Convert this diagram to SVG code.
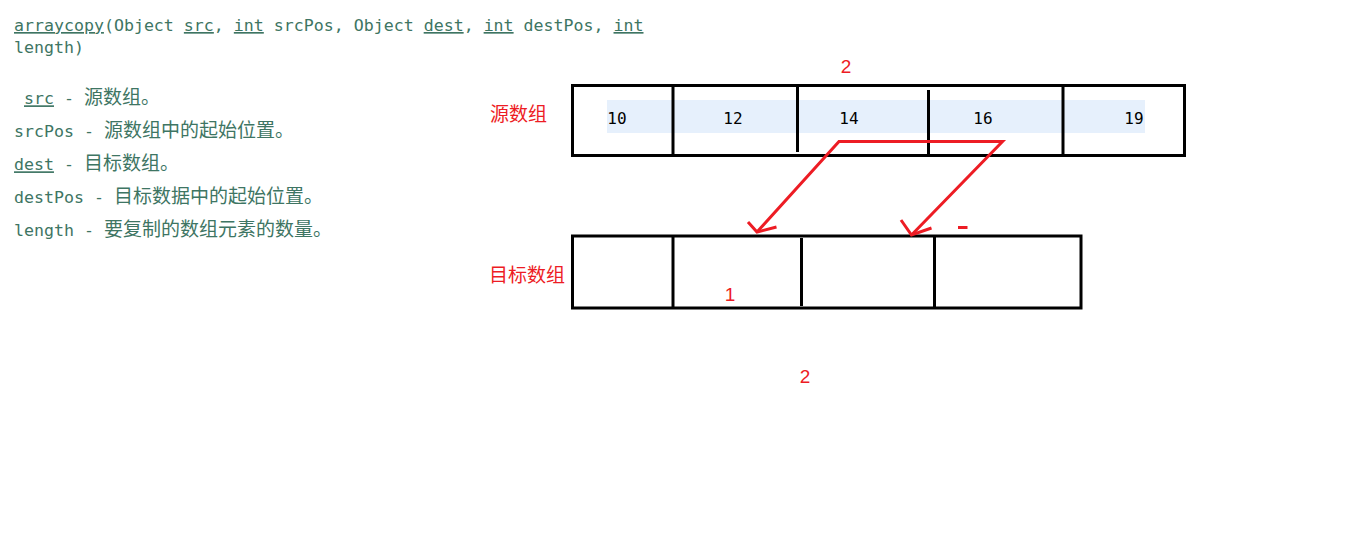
<svg xmlns="http://www.w3.org/2000/svg" width="1359" height="541" viewBox="0 0 1359 541">
<style>
.doc{font-family:"DejaVu Sans Mono","Liberation Mono","Noto Sans CJK SC",monospace;font-size:16.6px;fill:#3e7563}
.cj{font-family:"Noto Sans CJK SC",sans-serif;font-size:19px}
.u{text-decoration:underline}
.num{font-family:"DejaVu Sans Mono","Liberation Mono",monospace;font-size:16px;fill:#000;text-anchor:middle}
.red{font-family:"Noto Sans CJK SC","Liberation Sans",sans-serif;font-size:19px;fill:#ed1c24}
.redn{font-family:"Liberation Sans","Noto Sans",sans-serif;font-size:19px;fill:#ed1c24;text-anchor:middle}
.box{fill:none;stroke:#000;stroke-width:3}
.div{stroke:#000;stroke-width:3}
.arr{fill:none;stroke:#ed1c24;stroke-width:3;stroke-linejoin:miter;stroke-linecap:butt}
</style>
<rect width="1359" height="541" fill="#fff"/>
<g id="doc-text">
<text class="doc" x="14" y="31"><tspan class="u">arraycopy</tspan>(Object <tspan class="u">src</tspan>, <tspan class="u">int</tspan> srcPos, Object <tspan class="u">dest</tspan>, <tspan class="u">int</tspan> destPos, <tspan class="u">int</tspan></text>
<text class="doc" x="14" y="53">length)</text>
<text class="doc" x="24" y="104.3"><tspan class="u">src</tspan> - <tspan class="cj" x="84">源数组。</tspan></text>
<text class="doc" x="14" y="137.3">srcPos - <tspan class="cj" x="104">源数组中的起始位置。</tspan></text>
<text class="doc" x="14" y="170.3"><tspan class="u">dest</tspan> - <tspan class="cj" x="84">目标数组。</tspan></text>
<text class="doc" x="14" y="203.3">destPos - <tspan class="cj" x="114">目标数据中的起始位置。</tspan></text>
<text class="doc" x="14" y="236.3">length - <tspan class="cj" x="104">要复制的数组元素的数量。</tspan></text>
</g>
<g id="src-array">
<rect x="607" y="100" width="538" height="33" fill="#e6f0fc"/>
<rect class="box" x="572.5" y="85.5" width="612" height="70"/>
<line class="div" x1="673" y1="87" x2="673" y2="156"/>
<line class="div" x1="797.5" y1="85" x2="797.5" y2="152"/>
<line class="div" x1="928.5" y1="90" x2="928.5" y2="154"/>
<line class="div" x1="1063" y1="85" x2="1063" y2="156"/>
<text class="num" x="617" y="124">10</text>
<text class="num" x="733" y="124">12</text>
<text class="num" x="849" y="124">14</text>
<text class="num" x="983" y="124">16</text>
<text class="num" x="1134" y="124">19</text>
<text class="red" x="490" y="121">源数组</text>
<text class="redn" x="846" y="73.3">2</text>
</g>
<g id="dest-array">
<rect class="box" x="572.5" y="236" width="508.5" height="72"/>
<line class="div" x1="673" y1="236" x2="673" y2="308"/>
<line class="div" x1="801.5" y1="238" x2="801.5" y2="306"/>
<line class="div" x1="934.5" y1="236" x2="934.5" y2="308"/>
<text class="red" x="489" y="282">目标数组</text>
<text class="redn" x="730" y="301">1</text>
</g>
<g id="connectors">
<polyline class="arr" points="757,232 839,141.5 1002.5,141.5 911.5,235"/>
<polyline class="arr" points="748,222 757,232 776.5,227"/>
<polyline class="arr" points="901,220 911.5,235 931.5,228"/>
<line class="arr" x1="958" y1="227.5" x2="967.5" y2="227.5"/>
</g>
<text class="redn" x="805" y="383">2</text>
</svg>
